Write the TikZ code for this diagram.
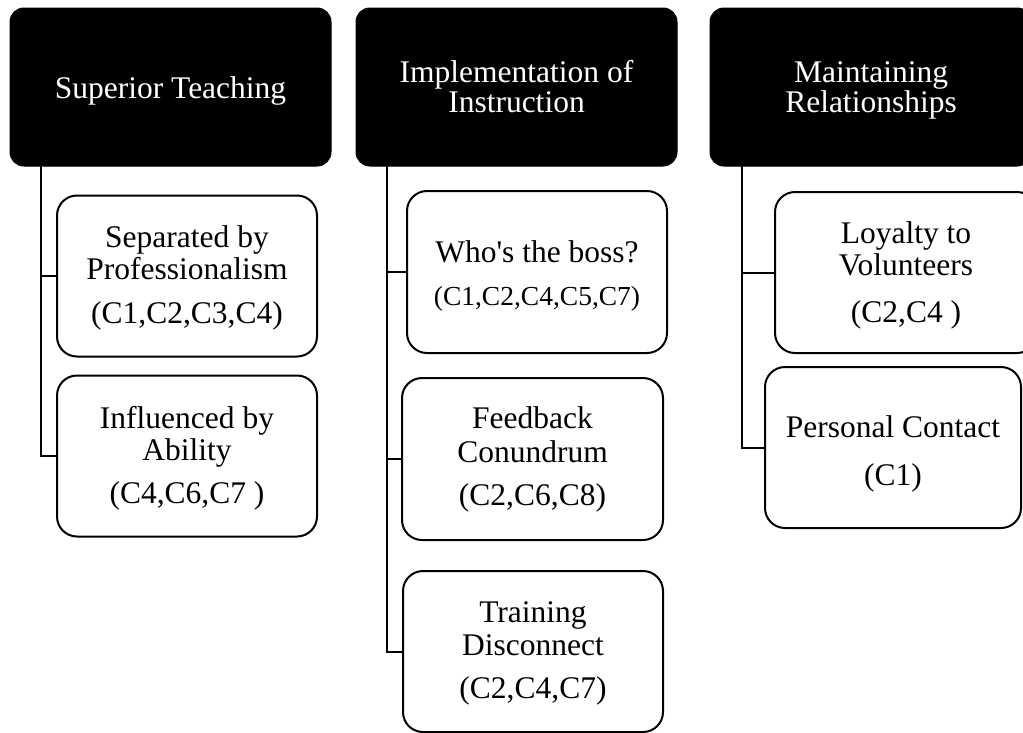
\documentclass[tikz,border=0pt]{standalone}
\usepackage{fontspec}
\setmainfont{Liberation Serif}[Ligatures=TeXOff]
\newcommand\firstlinestrut{\rule{0pt}{24pt}}
\begin{document}
\begin{tikzpicture}[x=1pt, y=-1pt,
  header/.style={rectangle, rounded corners=14pt, fill=black, draw=black,
    line width=1pt, minimum width=321pt, minimum height=158pt, inner sep=0pt},
  topic/.style={rectangle, rounded corners=20pt, draw=black, line width=2pt,
    fill=white, inner sep=0pt, minimum height=161pt},
  headtext/.style={anchor=north, align=center, inner sep=0pt, text=white,
    font=\fontsize{31.5}{30}\selectfont},
  topictext/.style={anchor=north, align=center, inner sep=0pt,
    font=\fontsize{31.5}{32}\selectfont},
  link/.style={draw=black, line width=2pt}]
\useasboundingbox (0,0) rectangle (1023,732);
\clip (0,0) rectangle (1023,732);

% column headers
\node[header] (h1) at (170.5,87) {};
\node[header] (h2) at (516.5,87) {};
\node[header] (h3) at (870.5,87) {};
\node[headtext] (h1t) at (170.5,98-24) {\firstlinestrut Superior Teaching};
\node[headtext] (h2t) at (516.5,82-24) {\firstlinestrut Implementation of\\Instruction};
\node[headtext] (h3t) at (871,82-24) {\firstlinestrut Maintaining\\Relationships};

% trunk starting points below each header
\coordinate (t1) at (41,166);
\coordinate (t2) at (387,166);
\coordinate (t3) at (742,166);

% first column
\node[topic, minimum width=260pt] (s1) at (187,276) {};
\node[topic, minimum width=260pt] (s2) at (187,456) {};
\node[topictext] (s1t) at (187,247-24)
  {\firstlinestrut Separated by\\Professionalism\\[12pt](C1,C2,C3,C4)};
\node[topictext] (s2t) at (187,428-24)
  {\firstlinestrut Influenced by\\Ability\\[11pt](C4,C6,C7 )};

% second column
\node[topic, minimum width=260pt, minimum height=162pt] (i1) at (537,272) {};
\node[topic, minimum width=261pt, minimum height=162pt] (i2) at (532.5,459) {};
\node[topic, minimum width=260pt] (i3) at (533,651.5) {};
\node[topictext] (i1t) at (537,262-24)
  {\firstlinestrut Who's the boss?\\[11pt]{\fontsize{27.5}{32}\selectfont (C1,C2,C4,C5,C7)}};
\node[topictext] (i2t) at (532.5,428-24)
  {\firstlinestrut Feedback\\[2pt]Conundrum\\[11pt](C2,C6,C8)};
\node[topictext] (i3t) at (533,622-24)
  {\firstlinestrut Training\\[1pt]Disconnect\\[11pt](C2,C4,C7)};

% third column
\node[topic, minimum width=262pt] (m1) at (906,272.5) {};
\node[topic, minimum width=256pt] (m2) at (893,447.5) {};
\node[topictext] (m1t) at (906,243-24)
  {\firstlinestrut Loyalty to\\Volunteers\\[15pt](C2,C4 )};
\node[topictext] (m2t) at (893,437-24)
  {\firstlinestrut Personal Contact\\[16pt](C1)};

% connectors from each header to its topics
\draw[link] (t1) |- (s1.west);
\draw[link] (t1) |- (s2.west);
\draw[link] (t2) |- (i1.west);
\draw[link] (t2) |- (i2.west);
\draw[link] (t2) |- (i3.west);
\draw[link] (t3) |- (m1.west);
\draw[link] (t3) |- (m2.west);
\end{tikzpicture}
\end{document}
